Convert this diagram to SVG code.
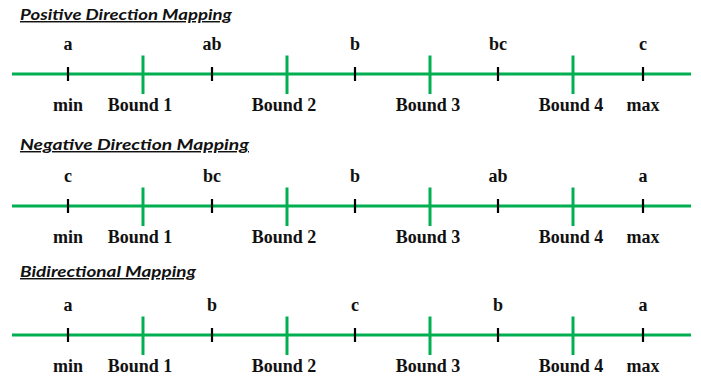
<svg xmlns="http://www.w3.org/2000/svg" xmlns:xlink="http://www.w3.org/1999/xlink" width="701" height="377" viewBox="0 0 701 377">
  <style>
    .title { font-family: Lato, "Open Sans", "Liberation Sans", sans-serif; font-size: 14.5px; font-weight: bold; font-style: italic; fill: #111; text-decoration: underline; }
    .lbl { font-family: "Liberation Serif", "Times New Roman", serif; font-size: 18px; font-weight: bold; fill: #111; text-anchor: middle; }
    .axis { stroke: #00b050; stroke-width: 3; fill: none; }
    .bound { stroke: #00b050; stroke-width: 3; }
    .mark { stroke: #000; stroke-width: 2.2; }
  </style>
  <defs>
    <!-- short black tick for a value point, centered on the axis -->
    <line id="markTick" class="mark" x1="0" y1="-7" x2="0" y2="7"/>
    <!-- taller green tick for a bound -->
    <line id="boundTick" class="bound" x1="0" y1="-18.5" x2="0" y2="20"/>
    <!-- bottom labels shared by all three axes -->
    <g id="bottomLabels">
      <text class="lbl" x="68" y="37">min</text>
      <text class="lbl" x="140" y="37">Bound 1</text>
      <text class="lbl" x="284" y="37">Bound 2</text>
      <text class="lbl" x="428" y="37">Bound 3</text>
      <text class="lbl" x="571" y="37">Bound 4</text>
      <text class="lbl" x="643" y="37">max</text>
    </g>
    <!-- axis line with value and bound ticks -->
    <g id="axisBase">
      <line class="axis" x1="12" y1="0" x2="691" y2="0"/>
      <use xlink:href="#markTick" x="68"/>
      <use xlink:href="#markTick" x="212"/>
      <use xlink:href="#markTick" x="355"/>
      <use xlink:href="#markTick" x="498"/>
      <use xlink:href="#markTick" x="643"/>
      <use xlink:href="#boundTick" x="143"/>
      <use xlink:href="#boundTick" x="287"/>
      <use xlink:href="#boundTick" x="430"/>
      <use xlink:href="#boundTick" x="573"/>
    </g>
  </defs>

  <!-- Positive direction -->
  <g id="positive">
    <text class="title" x="20" y="20" textLength="212" lengthAdjust="spacingAndGlyphs">Positive Direction Mapping</text>
    <g transform="translate(0,74)">
      <use xlink:href="#axisBase"/>
      <text class="lbl" x="68" y="-24">a</text>
      <text class="lbl" x="212" y="-24">ab</text>
      <text class="lbl" x="355" y="-24">b</text>
      <text class="lbl" x="498" y="-24">bc</text>
      <text class="lbl" x="643" y="-24">c</text>
      <use xlink:href="#bottomLabels"/>
    </g>
  </g>

  <!-- Negative direction -->
  <g id="negative">
    <text class="title" x="20" y="150" textLength="229" lengthAdjust="spacingAndGlyphs">Negative Direction Mapping</text>
    <g transform="translate(0,206)">
      <use xlink:href="#axisBase"/>
      <text class="lbl" x="68" y="-24">c</text>
      <text class="lbl" x="212" y="-24">bc</text>
      <text class="lbl" x="355" y="-24">b</text>
      <text class="lbl" x="498" y="-24">ab</text>
      <text class="lbl" x="643" y="-24">a</text>
      <use xlink:href="#bottomLabels"/>
    </g>
  </g>

  <!-- Bidirectional -->
  <g id="bidirectional">
    <text class="title" x="20" y="277" textLength="176" lengthAdjust="spacingAndGlyphs">Bidirectional Mapping</text>
    <g transform="translate(0,335)">
      <use xlink:href="#axisBase"/>
      <text class="lbl" x="68" y="-24">a</text>
      <text class="lbl" x="212" y="-24">b</text>
      <text class="lbl" x="355" y="-24">c</text>
      <text class="lbl" x="498" y="-24">b</text>
      <text class="lbl" x="643" y="-24">a</text>
      <use xlink:href="#bottomLabels"/>
    </g>
  </g>
</svg>
